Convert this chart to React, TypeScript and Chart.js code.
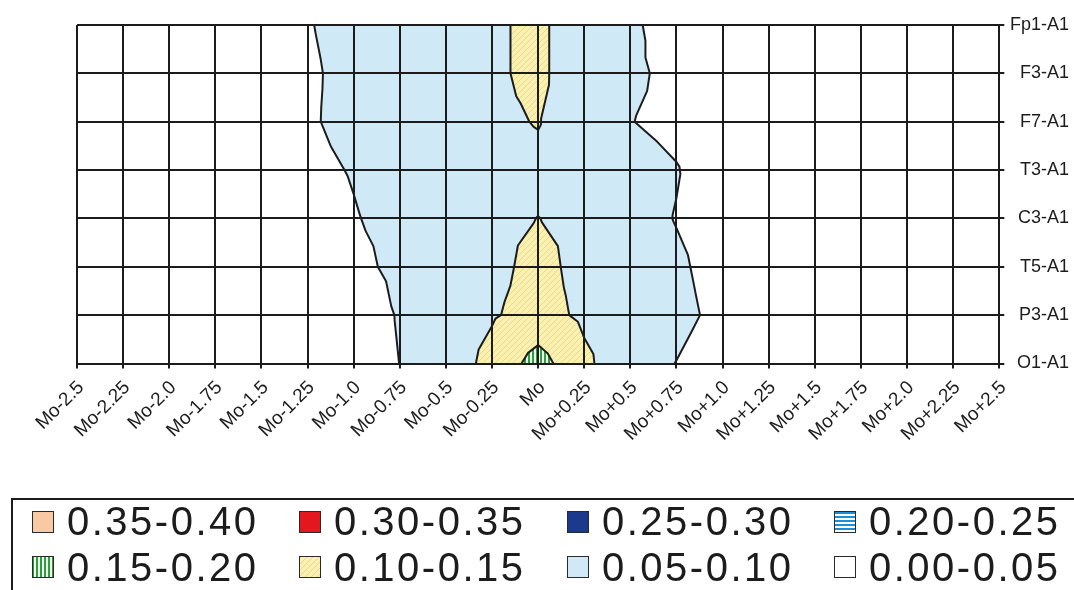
import { useEffect, useRef } from 'react';
import { Chart, registerables } from 'chart.js';

Chart.register(...registerables);

// ---- Data ----
const xLabels = [
  'Mo-2.5', 'Mo-2.25', 'Mo-2.0', 'Mo-1.75', 'Mo-1.5', 'Mo-1.25', 'Mo-1.0', 'Mo-0.75', 'Mo-0.5', 'Mo-0.25',
  'Mo', 'Mo+0.25', 'Mo+0.5', 'Mo+0.75', 'Mo+1.0', 'Mo+1.25', 'Mo+1.5', 'Mo+1.75', 'Mo+2.0', 'Mo+2.25', 'Mo+2.5',
];
const yLabels = ['Fp1-A1', 'F3-A1', 'F7-A1', 'T3-A1', 'C3-A1', 'T5-A1', 'P3-A1', 'O1-A1'];

// values per channel, one per time point (Mo-2.5 ... Mo+2.5)
const fp1 = [0.010, 0.014, 0.018, 0.024, 0.034, 0.048, 0.062, 0.070, 0.080, 0.092, 0.112, 0.062, 0.058, 0.028, 0.022, 0.018, 0.015, 0.012, 0.010, 0.008, 0.006];
const f3 = [0.010, 0.014, 0.018, 0.024, 0.033, 0.045, 0.060, 0.070, 0.080, 0.092, 0.112, 0.062, 0.058, 0.039, 0.026, 0.020, 0.016, 0.013, 0.010, 0.008, 0.006];
const f7 = [0.010, 0.014, 0.018, 0.024, 0.034, 0.046, 0.060, 0.070, 0.080, 0.0915, 0.102, 0.070, 0.051, 0.040, 0.030, 0.022, 0.017, 0.013, 0.010, 0.008, 0.006];
const t3 = [0.010, 0.014, 0.018, 0.024, 0.033, 0.042, 0.052, 0.065, 0.080, 0.085, 0.0902, 0.080, 0.065, 0.052, 0.025, 0.020, 0.016, 0.013, 0.010, 0.008, 0.006];
const c3 = [0.010, 0.014, 0.018, 0.022, 0.028, 0.035, 0.048, 0.0605, 0.075, 0.090, 0.1005, 0.090, 0.065, 0.0485, 0.035, 0.025, 0.018, 0.014, 0.010, 0.008, 0.006];
const t5 = [0.008, 0.012, 0.016, 0.020, 0.025, 0.030, 0.039, 0.060, 0.075, 0.0862, 0.115, 0.0844, 0.070, 0.056, 0.036, 0.026, 0.018, 0.014, 0.010, 0.008, 0.006];
const p3 = [0.006, 0.010, 0.012, 0.014, 0.016, 0.018, 0.020, 0.054, 0.075, 0.0958, 0.1174, 0.0916, 0.075, 0.060, 0.0404, 0.025, 0.018, 0.014, 0.010, 0.008, 0.006];
const o1 = [0.004, 0.006, 0.008, 0.010, 0.012, 0.014, 0.020, 0.0505, 0.0733, 0.1144, 0.170, 0.1094, 0.0667, 0.0493, 0.030, 0.022, 0.016, 0.012, 0.010, 0.008, 0.006];

const channelRows = [fp1, f3, f7, t3, c3, t5, p3, o1];

// legend bands (in legend order)
const bandLabels = ['0.35-0.40', '0.30-0.35', '0.25-0.30', '0.20-0.25', '0.15-0.20', '0.10-0.15', '0.05-0.10', '0.00-0.05'];
const bandLows = [0.35, 0.30, 0.25, 0.20, 0.15, 0.10, 0.05, 0.00];

// ---- Styles ----
const FONT = 'Arial, "Liberation Sans", Helvetica, sans-serif';
const INK = '#1c1c1c';

function makePattern(ctx: CanvasRenderingContext2D, kind: string): CanvasPattern | string {
  const c = document.createElement('canvas');
  const g = c.getContext('2d')!;
  if (kind === 'yellowHatch') {
    c.width = 6; c.height = 6;
    g.fillStyle = '#FAF0B2';
    g.fillRect(0, 0, 6, 6);
    g.strokeStyle = '#EBDB86';
    g.lineWidth = 1;
    g.beginPath();
    g.moveTo(-1, 7); g.lineTo(7, -1);
    g.moveTo(-1, 1); g.lineTo(1, -1);
    g.moveTo(5, 7); g.lineTo(7, 5);
    g.stroke();
  } else if (kind === 'greenStripe') {
    c.width = 4; c.height = 4;
    g.fillStyle = '#F2FAEE';
    g.fillRect(0, 0, 4, 4);
    g.fillStyle = '#2A9F3C';
    g.fillRect(0, 0, 2, 4);
  } else if (kind === 'blueStripe') {
    c.width = 4; c.height = 4;
    g.fillStyle = '#FFFFFF';
    g.fillRect(0, 0, 4, 4);
    g.fillStyle = '#1C8ED8';
    g.fillRect(0, 0, 4, 2);
  } else {
    return kind;
  }
  return ctx.createPattern(c, 'repeat') || '#ffffff';
}

// style per band (same order as bandLabels)
const bandStyleKeys = ['#F8C9A2', '#E3171D', '#1B3A8E', 'blueStripe', 'greenStripe', 'yellowHatch', '#D0E9F7', '#FFFFFF'];

type P = { x: number; y: number; v: number };

function clipPoly(pts: P[], L: number): P[] {
  const out: P[] = [];
  for (let i = 0; i < pts.length; i++) {
    const a = pts[i];
    const b = pts[(i + 1) % pts.length];
    const ain = a.v >= L;
    const bin = b.v >= L;
    if (ain) out.push(a);
    if (ain !== bin) {
      const t = (L - a.v) / (b.v - a.v);
      out.push({ x: a.x + t * (b.x - a.x), y: a.y + t * (b.y - a.y), v: L });
    }
  }
  return out;
}

function triangles(): P[][] {
  const tris: P[][] = [];
  for (let r = 0; r < channelRows.length - 1; r++) {
    for (let c = 0; c < xLabels.length - 1; c++) {
      const tl = { x: c, y: r, v: channelRows[r][c] };
      const tr = { x: c + 1, y: r, v: channelRows[r][c + 1] };
      const bl = { x: c, y: r + 1, v: channelRows[r + 1][c] };
      const br = { x: c + 1, y: r + 1, v: channelRows[r + 1][c + 1] };
      const m = { x: c + 0.5, y: r + 0.5, v: (tl.v + tr.v + bl.v + br.v) / 4 };
      tris.push([tl, tr, m], [tr, br, m], [br, bl, m], [bl, tl, m]);
    }
  }
  return tris;
}

const contourPlugin = {
  id: 'contourFill',
  beforeDraw(chart: any) {
    const { ctx, chartArea } = chart;
    const xs = chart.scales.x;
    const ys = chart.scales.y;
    const px = (p: { x: number; y: number }) => [xs.getPixelForValue(p.x), ys.getPixelForValue(p.y)];
    const tris = triangles();
    ctx.save();
    ctx.fillStyle = '#ffffff';
    ctx.fillRect(chartArea.left, chartArea.top, chartArea.right - chartArea.left, chartArea.bottom - chartArea.top);
    const order = bandLows
      .map((low, i) => ({ low, i }))
      .filter((b) => b.low > 0)
      .sort((a, b) => a.low - b.low);
    for (const b of order) {
      ctx.beginPath();
      let any = false;
      for (const t of tris) {
        const poly = clipPoly(t, b.low);
        if (poly.length < 3) continue;
        any = true;
        poly.forEach((p, k) => {
          const [X, Y] = px(p);
          if (k === 0) ctx.moveTo(X, Y); else ctx.lineTo(X, Y);
        });
        ctx.closePath();
      }
      if (any) {
        ctx.fillStyle = makePattern(ctx, bandStyleKeys[b.i]);
        ctx.fill();
      }
    }
    // contour lines
    ctx.strokeStyle = INK;
    ctx.lineWidth = 2;
    ctx.lineCap = 'round';
    ctx.lineJoin = 'round';
    ctx.beginPath();
    for (const b of order) {
      const L = b.low;
      for (const t of tris) {
        const pts: { x: number; y: number }[] = [];
        for (let k = 0; k < 3; k++) {
          const a = t[k];
          const c = t[(k + 1) % 3];
          if ((a.v >= L) !== (c.v >= L)) {
            const s = (L - a.v) / (c.v - a.v);
            pts.push({ x: a.x + s * (c.x - a.x), y: a.y + s * (c.y - a.y) });
          }
        }
        if (pts.length === 2) {
          const [x1, y1] = px(pts[0]);
          const [x2, y2] = px(pts[1]);
          ctx.moveTo(x1, y1);
          ctx.lineTo(x2, y2);
        }
      }
    }
    ctx.stroke();
    ctx.restore();
  },
};

const legendPlugin = {
  id: 'bandLegend',
  afterDraw(chart: any) {
    const ctx: any = chart.ctx;
    ctx.save();
    ctx.strokeStyle = INK;
    ctx.lineWidth = 2;
    ctx.strokeRect(12, 499, 1100, 140);
    ctx.font = `40px ${FONT}`;
    ctx.textBaseline = 'alphabetic';
    ctx.textAlign = 'left';
    try { ctx.letterSpacing = '2.5px'; } catch (e) { /* ignore */ }
    bandLabels.forEach((lab, i) => {
      const col = i % 4;
      const row = Math.floor(i / 4);
      const sx = Math.round(32 + col * 267.3);
      const sy = 511 + row * 45;
      ctx.fillStyle = makePattern(ctx, bandStyleKeys[i]);
      ctx.fillRect(sx, sy, 22, 22);
      ctx.strokeStyle = '#2a2a2a';
      ctx.lineWidth = 1;
      ctx.strokeRect(sx + 0.5, sy + 0.5, 21, 21);
      ctx.fillStyle = INK;
      ctx.fillText(lab, sx + 35, 535 + row * 46);
    });
    ctx.restore();
  },
};

export default function App() {
  const ref = useRef<HTMLCanvasElement>(null);
  useEffect(() => {
    const canvas = ref.current!;
    Chart.defaults.font.family = FONT;
    const chart = new Chart(canvas, {
      type: 'scatter',
      data: { datasets: [] },
      options: {
        responsive: false,
        animation: false,
        devicePixelRatio: 1,
        layout: { padding: { left: 77, top: 25, right: 5, bottom: 0 } },
        plugins: { legend: { display: false }, tooltip: { enabled: false } },
        scales: {
          x: {
            type: 'linear',
            position: 'bottom',
            min: 0,
            max: xLabels.length - 1,
            afterFit: (s: any) => { s.height = 226.5; },
            ticks: {
              stepSize: 1,
              autoSkip: false,
              minRotation: 45,
              maxRotation: 45,
              padding: 8,
              labelOffset: 4,
              color: INK,
              font: { size: 19, family: FONT },
              callback: (v: any) => xLabels[v as number] ?? '',
            },
            grid: { color: INK, lineWidth: 2, tickLength: 5, drawTicks: true },
            border: { display: true, color: INK, width: 2 },
          },
          y: {
            type: 'linear',
            position: 'right',
            min: 0,
            max: yLabels.length - 1,
            reverse: true,
            afterFit: (s: any) => { s.width = 69.7; },
            ticks: {
              stepSize: 1,
              padding: 2,
              crossAlign: 'far',
              color: INK,
              font: { size: 18, family: FONT },
              callback: (v: any) => yLabels[v as number] ?? '',
            },
            grid: { color: INK, lineWidth: 2, tickLength: 5, drawTicks: true },
            border: { display: true, color: INK, width: 2 },
          },
        },
      } as any,
      plugins: [contourPlugin, legendPlugin],
    });
    return () => chart.destroy();
  }, []);
  return (
    <div style={{ position: 'absolute', left: 0, top: 0, width: 1074, height: 590, background: '#fff', overflow: 'hidden' }}>
      <canvas ref={ref} width={1074} height={590} style={{ display: 'block' }} />
    </div>
  );
}
